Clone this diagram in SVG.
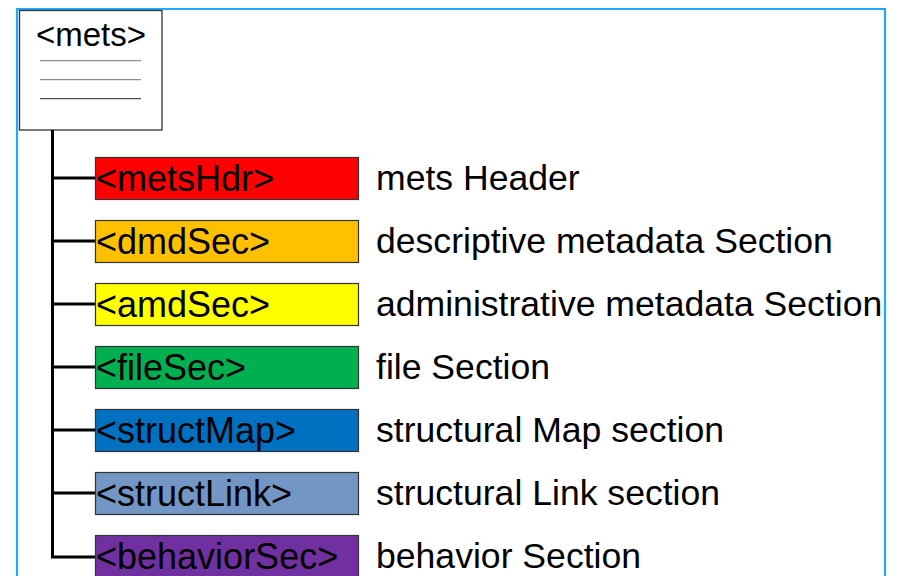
<svg xmlns="http://www.w3.org/2000/svg" width="899" height="576" viewBox="0 0 899 576">
<style>
text{font-family:"Liberation Sans",Arial,sans-serif;fill:#000}
.t{font-size:36px}
.l{font-size:35.6px}
.sec{stroke:#333;stroke-width:1.2}
.c{stroke:#000;stroke-width:3;fill:none}
</style>
<rect width="899" height="576" fill="#fff"/>
<path d="M17,580 V9 H885 V580" fill="none" stroke="#22A6FF" stroke-width="2.2"/>
<g id="mets">
<rect x="19.5" y="10.5" width="142.5" height="119.5" fill="#fff" stroke="#333" stroke-width="1.3"/>
<text x="91" y="46" font-size="33" text-anchor="middle">&lt;mets&gt;</text>
<line x1="40" y1="60.7" x2="141" y2="60.7" stroke="#777" stroke-width="1"/>
<line x1="40" y1="79.7" x2="141" y2="79.7" stroke="#777" stroke-width="1"/>
<line x1="40" y1="98.7" x2="141" y2="98.7" stroke="#222" stroke-width="1"/>
</g>
<g id="connectors">
<path class="c" d="M52.5,130 V557 H95"/>
<path class="c" d="M52.5,178 H95 M52.5,241 H95 M52.5,304 H95 M52.5,367 H95 M52.5,430 H95 M52.5,493 H95"/>
</g>
<g id="metsHdr"><rect class="sec" x="95.5" y="157.5" width="263" height="42" fill="#FF0000"/><text class="t" x="96" y="191">&lt;metsHdr&gt;</text><text class="l" x="376" y="190">mets Header</text></g>
<g id="dmdSec"><rect class="sec" x="95.5" y="220.5" width="263" height="42" fill="#FFC000"/><text class="t" x="96" y="254">&lt;dmdSec&gt;</text><text class="l" x="376" y="253">descriptive metadata Section</text></g>
<g id="amdSec"><rect class="sec" x="95.5" y="283.5" width="263" height="42" fill="#FFFF00"/><text class="t" x="96" y="317">&lt;amdSec&gt;</text><text class="l" x="376" y="316">administrative metadata Section</text></g>
<g id="fileSec"><rect class="sec" x="95.5" y="346.5" width="263" height="42" fill="#00B050"/><text class="t" x="96" y="380">&lt;fileSec&gt;</text><text class="l" x="376" y="379">file Section</text></g>
<g id="structMap"><rect class="sec" x="95.5" y="409.5" width="263" height="42" fill="#0070C0"/><text class="t" x="96" y="443">&lt;structMap&gt;</text><text class="l" x="376" y="442">structural Map section</text></g>
<g id="structLink"><rect class="sec" x="95.5" y="472.5" width="263" height="42" fill="#7396C4"/><text class="t" x="96" y="506">&lt;structLink&gt;</text><text class="l" x="376" y="505">structural Link section</text></g>
<g id="behaviorSec"><rect class="sec" x="95.5" y="535.5" width="263" height="42" fill="#7030A0"/><text class="t" x="96" y="569">&lt;behaviorSec&gt;</text><text class="l" x="376" y="568">behavior Section</text></g>
</svg>
